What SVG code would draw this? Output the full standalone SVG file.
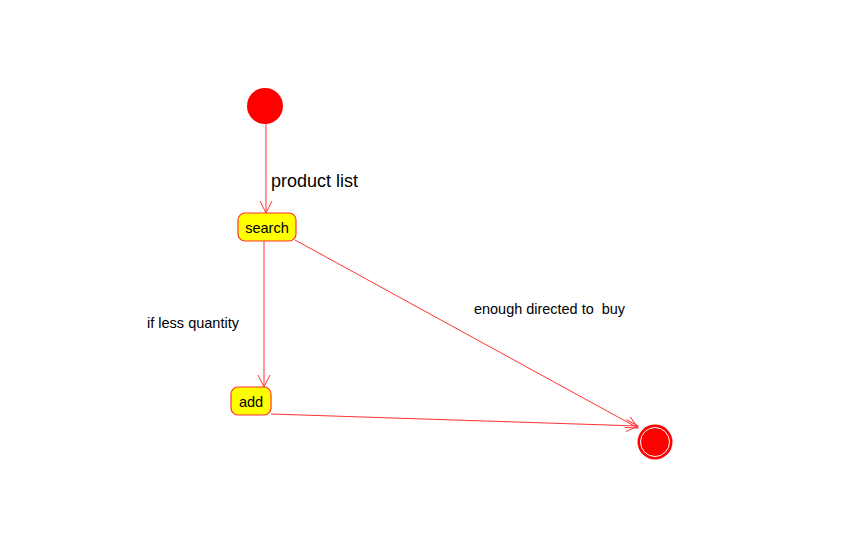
<svg xmlns="http://www.w3.org/2000/svg" width="868" height="555" viewBox="0 0 868 555">
<style>
.conn{stroke:#ff3333;stroke-width:1;fill:none}
.node{fill:#ffff00;stroke:#ff3333;stroke-width:1.2}
.t{font-family:"Liberation Sans",Arial,sans-serif;fill:#000}
</style>
<defs>
<marker id="arr" markerWidth="16" markerHeight="16" refX="14" refY="8" orient="auto" markerUnits="userSpaceOnUse">
<path d="M2,2 L14,8 L2,14" fill="none" stroke="#ff3333" stroke-width="1"/>
</marker>
</defs>
<rect width="868" height="555" fill="#fff"/>
<g id="connectors">
<line class="conn" x1="266" y1="124" x2="266" y2="213" marker-end="url(#arr)"/>
<line class="conn" x1="264" y1="241" x2="264" y2="387" marker-end="url(#arr)"/>
<line class="conn" x1="295" y1="240" x2="638" y2="428" marker-end="url(#arr)"/>
<line class="conn" x1="271" y1="414" x2="638" y2="426" marker-end="url(#arr)"/>
<text class="t" x="271" y="187" font-size="17.5" textLength="87" lengthAdjust="spacingAndGlyphs">product list</text>
<text class="t" x="147" y="328" font-size="14.2" textLength="92" lengthAdjust="spacingAndGlyphs">if less quantity</text>
<text class="t" x="474" y="314" font-size="14.2" xml:space="preserve" textLength="151" lengthAdjust="spacingAndGlyphs">enough directed to  buy</text>
</g>
<g id="start">
<circle cx="265" cy="106" r="18" fill="#ff0000"/>
</g>
<g id="search">
<rect class="node" x="238" y="213" width="58" height="28" rx="7"/>
<text class="t" x="267" y="233" font-size="14.5" text-anchor="middle">search</text>
</g>
<g id="add">
<rect class="node" x="231" y="387" width="40" height="28" rx="7"/>
<text class="t" x="251" y="407" font-size="14.5" text-anchor="middle">add</text>
</g>
<g id="end">
<circle cx="655" cy="442" r="17.5" fill="#ff0000"/>
<circle cx="655" cy="442" r="14.5" fill="none" stroke="#fff" stroke-width="1"/>
</g>
</svg>
